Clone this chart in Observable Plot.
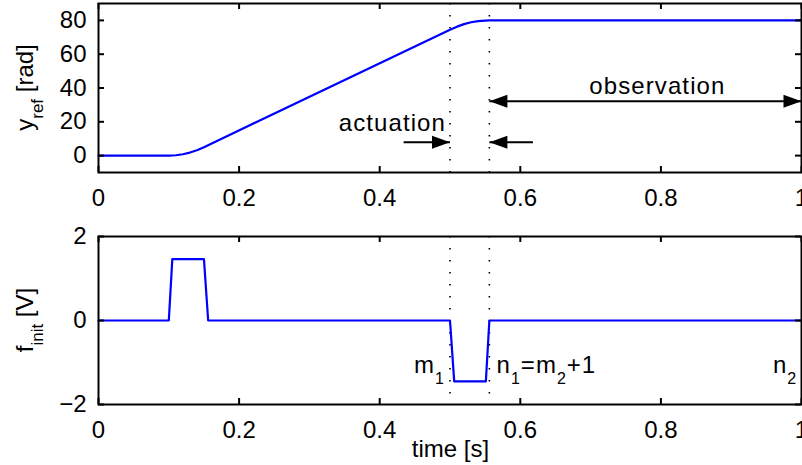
<!DOCTYPE html>
<html><head><meta charset="utf-8">
<script src="https://cdn.jsdelivr.net/npm/d3@7"></script>
<script src="https://cdn.jsdelivr.net/npm/@observablehq/plot@0.6"></script>
<style>
body{margin:0;background:#fff;}
#chart{width:802px;height:465px;overflow:hidden;position:relative;}
#chart svg{display:block;}
</style></head><body><div id="chart"></div>
<script>
// ---- data ----
const t_ref = [0, 0.1, 0.11, 0.12, 0.13, 0.14, 0.15, 0.5, 0.51, 0.52, 0.53, 0.54, 0.55, 0.556, 1];
const y_ref = [0, 0, 0.2, 0.8, 1.8, 3.2, 5.0, 74.5, 76.3, 77.8, 78.9, 79.6, 79.9, 80, 80];
const t_f = [0, 0.1, 0.105, 0.15, 0.156, 0.5, 0.506, 0.551, 0.556, 1];
const f_init = [0, 0, 1.46, 1.46, 0, 0, -1.45, -1.45, 0, 0];
const markTimes = [0.5, 0.556];
const xTicks = [0, 0.2, 0.4, 0.6, 0.8, 1];
const xTickLabels = ["0", "0.2", "0.4", "0.6", "0.8", "1"];
const yTicksTop = [0, 20, 40, 60, 80];
const yTickLabelsTop = ["0", "20", "40", "60", "80"];
const yTicksBot = [-2, 0, 2];
const yTickLabelsBot = ["\u22122", "0", "2"];
// annotation data (in data units)
const arrowShafts = [
  {x1: 0.556, x2: 1, y: 32.2},
  {x1: 0.434, x2: 0.5, y: 7.9},
  {x1: 0.618, x2: 0.556, y: 7.9}
];
const arrowHeads = [
  {x: 0.556, y: 32.2, dir: 180},
  {x: 1, y: 32.2, dir: 0},
  {x: 0.5, y: 7.9, dir: 0},
  {x: 0.556, y: 7.9, dir: 180}
];
const topNotes = [
  {x: 0.418, y: 19.4, text: "actuation"},
  {x: 0.795, y: 41.1, text: "observation"}
];
const botNotes = [
  {x: 0.4495, y: -1.27, parts: [["m", 0], ["1", 1]]},
  {x: 0.567, y: -1.27, parts: [["n", 0], ["1", 1], ["=m", 0], ["2", 1], ["+1", 0]]},
  {x: 0.960, y: -1.27, parts: [["n", 0], ["2", 1]]}
];

// ---- layout ----
const W = 802, ML = 98, MR = 1;
const FONT = "'Liberation Sans', Arial, Helvetica, sans-serif";
const BLUE = "#0000ff";

const topData = t_ref.map((t, i) => ({t, v: y_ref[i]}));
const botData = t_f.map((t, i) => ({t, v: f_init[i]}));

const arrowHead = {draw(ctx) { ctx.moveTo(0, 0); ctx.lineTo(-18, -6.5); ctx.lineTo(-18, 6.5); ctx.closePath(); }};

function boxTicks(yT, h, mt, mb) {
  const ph = h - mt - mb, pw = W - ML - MR;
  const st = {stroke: "black", strokeWidth: 2};
  return [
    Plot.tickX(xTicks, {x: d => d, insetTop: ph - 6, ...st}),
    Plot.tickX(xTicks, {x: d => d, insetBottom: ph - 6, ...st}),
    Plot.tickY(yT, {y: d => d, insetRight: pw - 6, ...st}),
    Plot.tickY(yT, {y: d => d, insetLeft: pw - 6, ...st})
  ];
}

function axes(yT, yL) {
  return [
    Plot.axisX(xTicks, {tickSize: 0, tickPadding: 16, fontSize: 24, tickFormat: d => xTickLabels[xTicks.indexOf(d)], label: null}),
    Plot.axisY(yT, {anchor: "left", tickSize: 0, tickPadding: 12, fontSize: 24, tickFormat: d => yL[yT.indexOf(d)], label: null})
  ];
}

const HT = 225, MTT = 3, MBT = 53;
const plotTop = Plot.plot({
  width: W, height: HT, marginLeft: ML, marginRight: MR, marginTop: MTT, marginBottom: MBT,
  style: {fontFamily: FONT, fontSize: "24px", color: "black", background: "white", overflow: "visible"},
  x: {domain: [0, 1]},
  y: {domain: [-10, 90]},
  marks: [
    Plot.ruleX(markTimes, {x: d => d, stroke: "black", strokeWidth: 1.6, strokeDasharray: "1.6,10.4"}),
    Plot.line(topData, {x: "t", y: "v", stroke: BLUE, strokeWidth: 2.2}),
    Plot.link(arrowShafts, {x1: "x1", x2: "x2", y1: "y", y2: "y", stroke: "black", strokeWidth: 2}),
    Plot.dot(arrowHeads, {x: "x", y: "y", rotate: "dir", symbol: arrowHead, fill: "black", stroke: "none"}),
    Plot.text(topNotes, {x: "x", y: "y", text: "text", fontSize: 24, fill: "black", textAnchor: "middle", className: "note"}),
    ...axes(yTicksTop, yTickLabelsTop),
    ...boxTicks(yTicksTop, HT, MTT, MBT),
    Plot.frame({stroke: "black", strokeWidth: 2})
  ]
});

const HB = 240, MTB = 11, MBB = 61;
const plotBot = Plot.plot({
  width: W, height: HB, marginLeft: ML, marginRight: MR, marginTop: MTB, marginBottom: MBB,
  style: {fontFamily: FONT, fontSize: "24px", color: "black", background: "transparent", overflow: "visible"},
  x: {domain: [0, 1]},
  y: {domain: [-2, 2]},
  marks: [
    Plot.ruleX(markTimes, {x: d => d, stroke: "black", strokeWidth: 1.6, strokeDasharray: "1.6,10.4"}),
    Plot.line(botData, {x: "t", y: "v", stroke: BLUE, strokeWidth: 2.2}),
    ...axes(yTicksBot, yTickLabelsBot),
    ...boxTicks(yTicksBot, HB, MTB, MBB),
    Plot.frame({stroke: "black", strokeWidth: 2})
  ]
});

const chart = document.getElementById("chart");
chart.appendChild(plotTop);
chart.appendChild(plotBot);

// letter spacing for the free annotations
d3.select(plotTop).selectAll("g.note text, .note text").attr("letter-spacing", "1.1px");
d3.select(plotTop).selectAll("text").filter(function() { return topNotes.some(n => n.text === this.textContent); }).attr("letter-spacing", "1.1px");

// rich text with subscripts
function richText(svg, x, y, parts, opt) {
  const t = d3.select(svg).append("text")
    .attr("font-family", FONT).attr("fill", "black")
    .attr("letter-spacing", opt.ls || 0)
    .attr("text-anchor", opt.anchor || "start");
  if (opt.rotate) t.attr("transform", `translate(${x},${y}) rotate(${opt.rotate})`);
  else t.attr("x", x).attr("y", y);
  let cur = 0;
  for (const [s, sub] of parts) {
    const target = sub ? opt.shift : 0;
    t.append("tspan").attr("font-size", sub ? opt.sub : opt.main).attr("dy", target - cur).text(s);
    cur = target;
  }
  return t;
}

const sxB = plotBot.scale("x"), syB = plotBot.scale("y");
for (const n of botNotes) {
  richText(plotBot, sxB.apply(n.x), syB.apply(n.y), n.parts, {main: 24, sub: 16, shift: 11, ls: "1px"});
}

// axis titles
richText(plotTop, 33, (MTT + HT - MBT) / 2, [["y", 0], ["ref", 1], [" [rad]", 0]], {main: 24, sub: 17, shift: 10, anchor: "middle", rotate: -90});
richText(plotBot, 33, (MTB + HB - MBB) / 2, [["f", 0], ["init", 1], [" [V]", 0]], {main: 24, sub: 17, shift: 10, anchor: "middle", rotate: -90});
richText(plotBot, (ML + W - MR) / 2 + 1, HB - 8.3, [["time [s]", 0]], {main: 24, anchor: "middle"});
</script></body></html>
